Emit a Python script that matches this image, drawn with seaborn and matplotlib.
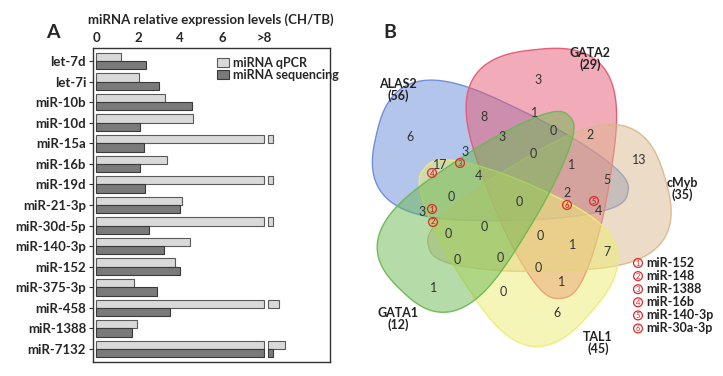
import numpy as np
import pandas as pd
import matplotlib
matplotlib.use('Agg')
import matplotlib.pyplot as plt
import seaborn as sns
from matplotlib.patches import Polygon, Patch

# ---- panel A data ----
mirnas = ['let-7d', 'let-7i', 'miR-10b', 'miR-10d', 'miR-15a', 'miR-16b', 'miR-19d',
          'miR-21-3p', 'miR-30d-5p', 'miR-140-3p', 'miR-152', 'miR-375-3p',
          'miR-458', 'miR-1388', 'miR-7132']
qpcr = [1.18, 2.06, 3.29, 4.6, 8, 3.4, 8, 4.1, 8, 4.49, 3.75, 1.81, 8, 1.94, 8]
seq = [2.39, 3.02, 4.57, 2.11, 2.3, 2.11, 2.31, 3.98, 2.52, 3.23, 4.02, 2.91, 3.51, 1.69, 8]
# length of the piece drawn past the axis break (values > 8)
qpcr_over = [0, 0, 0, 0, 0.22, 0, 0.22, 0, 0.22, 0, 0, 0, 0.5, 0, 0.79]
seq_over = [0, 0, 0, 0, 0, 0, 0, 0, 0, 0, 0, 0, 0, 0, 0.25]
x_ticks = [0, 2, 4, 6, 8]
x_ticklabels = ['0', '2', '4', '6', '>8']

# ---- panel B data ----
set_names = ['ALAS2', 'GATA2', 'cMyb', 'TAL1', 'GATA1']
set_sizes = [56, 29, 35, 45, 12]
region_counts = [3, 8, 1, 0, 2, 6, 3, 0, 13, 3, 17, 1, 4, 5, 2, 4,
                 0, 0, 3, 0, 0, 0, 1, 7, 0, 0, 0, 1, 1, 0, 6]
marked_mirnas = ['miR-152', 'miR-148', 'miR-1388', 'miR-16b', 'miR-140-3p', 'miR-30a-3p']

sns.set_style('white')
plt.rcParams['font.family'] = ['Lato', 'DejaVu Sans']

fig = plt.figure(figsize=(7.23, 3.76), dpi=100)

# ================= panel A =================
ax = fig.add_axes([93 / 723, 1 - 362 / 376, 237 / 723, 314 / 376])
df = pd.DataFrame({'miRNA': mirnas * 2,
                   'value': qpcr + seq,
                   'method': ['miRNA qPCR'] * len(mirnas) + ['miRNA sequencing'] * len(mirnas)})
fills = ['#d9d9d9', '#7a7a7a']
edges = ['#5a5a5a', '#3a3a3a']
sns.barplot(data=df, x='value', y='miRNA', hue='method', orient='h', palette=fills,
            width=0.8, ax=ax, legend=False)
for cont, ec in zip(ax.containers, edges):
    for b in cont:
        b.set_edgecolor(ec)
        b.set_linewidth(0.8)

ypos = np.arange(len(mirnas))
for over, off, fc, ec in [(qpcr_over, -0.2, fills[0], edges[0]), (seq_over, 0.2, fills[1], edges[1])]:
    over = np.array(over)
    m = over > 0
    ax.barh(ypos[m] + off, over[m], left=8.2, height=0.4, color=fc, edgecolor=ec, linewidth=0.8)

ax.set_xlim(-0.15, 11.15)
ax.set_ylim(len(mirnas) - 1 + 0.63, -0.63)
ax.xaxis.tick_top()
ax.set_xticks(x_ticks)
ax.set_xticklabels(x_ticklabels, fontsize=9.5, fontweight='bold')
ax.tick_params(axis='x', length=0, pad=3)
ax.tick_params(axis='y', length=3, width=0.8, color='#333333', left=True, pad=2)
for lab in ax.get_yticklabels():
    lab.set_fontweight('bold')
    lab.set_fontsize(9.5)
ax.set_xlabel('')
ax.set_ylabel('')
for s in ax.spines.values():
    s.set_color('#333333')
    s.set_linewidth(1)

handles = [Patch(fc=fills[0], ec=edges[0], lw=0.8, label='miRNA qPCR'),
           Patch(fc=fills[1], ec=edges[1], lw=0.8, label='miRNA sequencing')]
ax.legend(handles=handles, loc='upper left', bbox_to_anchor=(0.49, 0.995), frameon=False,
          handlelength=1.0, handleheight=0.75, labelspacing=0.0, handletextpad=0.3,
          borderpad=0.1, prop={'weight': 'bold', 'size': 9})

fig.text(211 / 723, 1 - 20 / 376, 'miRNA relative expression levels (CH/TB)', ha='center',
         va='center', fontsize=9.5, fontweight='bold')
fig.text(53 / 723, 1 - 33 / 376, 'A', ha='center', va='center', fontsize=14, fontweight='bold')

# ================= panel B =================
axb = fig.add_axes([360 / 723, 0, 363 / 723, 1])
axb.set_xlim(360, 723)
axb.set_ylim(376, 0)
axb.axis('off')


def bean(cx, cy, a, b, k, ang, p=0.75):
    # rounded, slightly tapered blob; head points along ang
    t = np.linspace(0, 2 * np.pi, 400)
    c, s = np.cos(t), np.sin(t)
    lx = a * np.sign(c) * np.abs(c) ** p
    ly = b * np.sign(s) * np.abs(s) ** p * (1 + k * np.sign(c) * np.abs(c) ** p)
    r = np.deg2rad(ang)
    return np.column_stack([cx + lx * np.cos(r) - ly * np.sin(r),
                            cy + lx * np.sin(r) + ly * np.cos(r)])


# shape geometry per set: centre, half length, half width, taper, head direction
shapes = {'ALAS2': (502, 164, 129, 58, 0.5, 193),
          'GATA2': (548, 174, 125, 64, 0.5, -96),
          'cMyb': (547, 213, 123, 60, 0.5, -16),
          'TAL1': (508, 240, 110, 62, 0.5, 41),
          'GATA1': (485, 203, 121, 52, 0.5, 134)}
colors = {'ALAS2': (0.42, 0.55, 0.85), 'GATA2': (0.90, 0.35, 0.45), 'cMyb': (0.86, 0.72, 0.56),
          'TAL1': (0.93, 0.93, 0.45), 'GATA1': (0.42, 0.72, 0.32)}
for name in ['ALAS2', 'GATA2', 'cMyb', 'TAL1', 'GATA1']:
    c = colors[name]
    axb.add_patch(Polygon(bean(*shapes[name]), closed=True, fc=c + (0.5,), ec=c + (0.95,), lw=1.0))

region_xy = [(538, 80), (484, 117), (535, 113), (553, 131), (590, 135), (410, 137), (502, 137),
             (533, 154), (639, 160), (465, 152), (440, 165), (572, 165), (478, 176), (607, 180),
             (567, 193), (598, 211), (451, 197), (519, 202), (422, 212), (448, 234), (484, 227),
             (540, 236), (573, 245), (607, 252), (457, 260), (500, 258), (538, 268), (562, 282),
             (434, 288), (503, 292), (557, 313)]
for n, (x, y) in zip(region_counts, region_xy):
    axb.text(x, y, str(n), ha='center', va='center', fontsize=9, color='#333333')

label_xy = {'ALAS2': (398, 90), 'GATA2': (590, 59), 'cMyb': (682, 189),
            'TAL1': (598, 343), 'GATA1': (398, 319)}
for name, size in zip(set_names, set_sizes):
    x, y = label_xy[name]
    axb.text(x, y, f'{name}\n({size})', ha='center', va='center', fontsize=9,
             fontweight='bold', linespacing=1.0, color='#222222')

red = '#e0282a'
marker_xy = [(432, 209), (433, 222), (460, 163), (432, 173), (594, 201), (567, 205)]
for i, (x, y) in enumerate(marker_xy):
    axb.text(x, y, str(i + 1), ha='center', va='center', fontsize=5.5, color=red,
             fontweight='bold', bbox=dict(boxstyle='circle,pad=0.12', fc='none', ec=red, lw=0.9))

for i, name in enumerate(marked_mirnas):
    y = 263 + i * 13.1
    axb.text(638, y, str(i + 1), ha='center', va='center', fontsize=5.5, color=red,
             bbox=dict(boxstyle='circle,pad=0.12', fc='none', ec=red, lw=0.9))
    axb.text(646, y, name, ha='left', va='center', fontsize=9, fontweight='bold', color='#222222')

fig.text(390 / 723, 1 - 32 / 376, 'B', ha='center', va='center', fontsize=14, fontweight='bold')

fig.savefig('out.png', dpi=100)
